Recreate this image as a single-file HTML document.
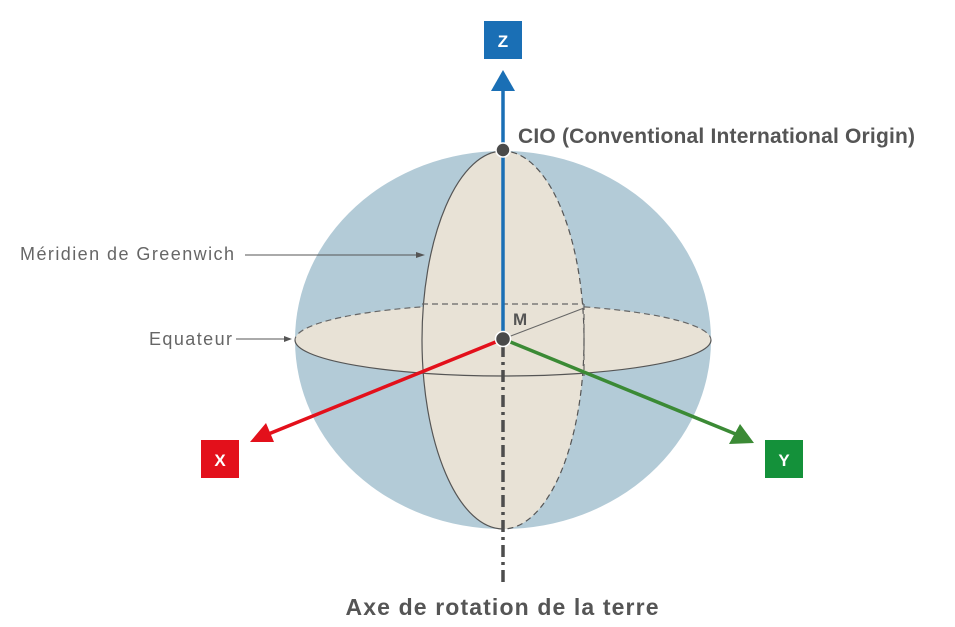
<!DOCTYPE html>
<html><head><meta charset="utf-8"><style>html,body{margin:0;padding:0;background:#fff}svg{display:block}</style></head>
<body>
<svg width="955" height="627" viewBox="0 0 955 627" xmlns="http://www.w3.org/2000/svg" font-family="'Liberation Sans', sans-serif">
<defs>
<clipPath id="frontEq"><rect x="0" y="340" width="955" height="100"/></clipPath>
<clipPath id="backEq"><rect x="0" y="280" width="955" height="60"/></clipPath>
<clipPath id="leftM"><rect x="400" y="140" width="103" height="400"/></clipPath>
<clipPath id="rightM"><rect x="503" y="140" width="103" height="400"/></clipPath>
</defs>
<ellipse cx="503" cy="340" rx="208" ry="189" fill="#b3cbd7"/>
<ellipse cx="503" cy="340" rx="208" ry="36" fill="#e8e2d6"/>
<ellipse cx="503" cy="340" rx="208" ry="36" fill="none" stroke="#666" stroke-width="1.2" stroke-dasharray="6,4" clip-path="url(#backEq)"/>
<ellipse cx="503" cy="340" rx="81" ry="189" fill="#e8e2d6"/>
<ellipse cx="503" cy="340" rx="81" ry="189" fill="none" stroke="#555" stroke-width="1.2" clip-path="url(#leftM)"/>
<ellipse cx="503" cy="340" rx="81" ry="189" fill="none" stroke="#555" stroke-width="1.2" stroke-dasharray="6,4" clip-path="url(#rightM)"/>
<ellipse cx="503" cy="340" rx="208" ry="36" fill="none" stroke="#555" stroke-width="1.2" clip-path="url(#frontEq)"/>
<line x1="422" y1="304" x2="584" y2="304" stroke="#666" stroke-width="1.2" stroke-dasharray="6,4"/>
<line x1="584" y1="304" x2="584" y2="376" stroke="#666" stroke-width="1.2" stroke-dasharray="6,4"/>
<line x1="503" y1="339" x2="584" y2="308" stroke="#666" stroke-width="1"/>
<line x1="503" y1="345" x2="503" y2="582" stroke="#4d4d4d" stroke-width="3.5" stroke-dasharray="12,5,3,5"/>
<line x1="503" y1="339" x2="503" y2="88" stroke="#1a6fb5" stroke-width="3.5"/>
<polygon points="503,70 491,91 515,91" fill="#1a6fb5"/>
<rect x="484" y="21" width="38" height="38" fill="#1a6fb5"/>
<text x="503" y="47" font-size="17" font-weight="bold" fill="#fff" text-anchor="middle">Z</text>
<line x1="503" y1="339" x2="266" y2="435" stroke="#e3101b" stroke-width="3.5"/>
<polygon points="250,442 266,423 274,442" fill="#e3101b"/>
<rect x="201" y="440" width="38" height="38" fill="#e3101b"/>
<text x="220" y="466" font-size="17" font-weight="bold" fill="#fff" text-anchor="middle">X</text>
<line x1="503" y1="339" x2="738" y2="435" stroke="#3b8a35" stroke-width="3.5"/>
<polygon points="754,443 729,444 740,424" fill="#3b8a35"/>
<rect x="765" y="440" width="38" height="38" fill="#14913a"/>
<text x="784" y="466" font-size="17" font-weight="bold" fill="#fff" text-anchor="middle">Y</text>
<circle cx="503" cy="150" r="7" fill="#4a4a4a" stroke="#fff" stroke-width="1.5"/>
<circle cx="503" cy="339" r="7.5" fill="#4a4a4a" stroke="#fff" stroke-width="1.5"/>
<text x="513" y="325" font-size="17" font-weight="bold" fill="#555">M</text>
<text x="518" y="143" font-size="21" font-weight="bold" fill="#555" textLength="397">CIO (Conventional International Origin)</text>
<text x="20" y="260" font-size="18" fill="#666" textLength="214">Méridien de Greenwich</text>
<line x1="245" y1="255" x2="417" y2="255" stroke="#555" stroke-width="1"/>
<polygon points="425,255 416,252 416,258" fill="#555"/>
<text x="149" y="345" font-size="18" fill="#666" textLength="83">Equateur</text>
<line x1="236" y1="339" x2="285" y2="339" stroke="#555" stroke-width="1"/>
<polygon points="292,339 284,336 284,342" fill="#555"/>
<text x="502" y="615" font-size="23" font-weight="bold" fill="#555" text-anchor="middle" textLength="313">Axe de rotation de la terre</text>
</svg>
</body></html>
